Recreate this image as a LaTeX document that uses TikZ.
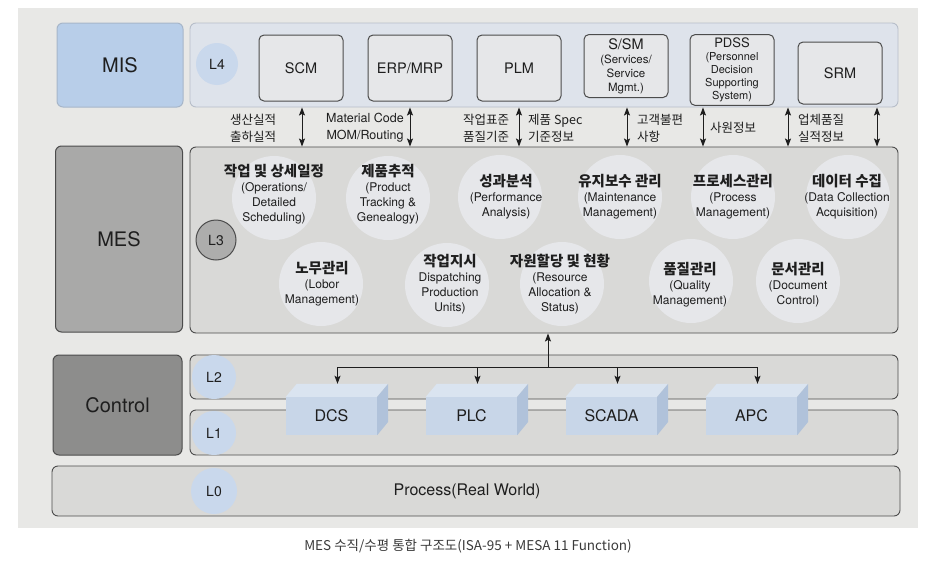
\documentclass[tikz,border=0pt]{standalone}
\usepackage{fontspec}
\setmainfont{TeX Gyre Heros}
\newfontfamily\kr{Noto Sans CJK KR}
\usepackage{tikz}
\usetikzlibrary{positioning,shapes,arrows.meta}

\definecolor{photo}{HTML}{E8E8E6}
\definecolor{misblue}{HTML}{B8CEE9}
\definecolor{rowblue}{HTML}{DEE3EB}
\definecolor{rowblueedge}{HTML}{B7BEC9}
\definecolor{mesgray}{HTML}{A9A9A8}
\definecolor{ctrlgray}{HTML}{8D8D8C}
\definecolor{rowgray}{HTML}{D9D9D7}
\definecolor{boxgray}{HTML}{E6E7E9}
\definecolor{fncircle}{HTML}{E6E7EA}
\definecolor{lvblue}{HTML}{C9D8EC}
\definecolor{lvgray}{HTML}{ADADAC}
\definecolor{edge}{HTML}{4C4C4C}
\definecolor{ink}{HTML}{1E1E1E}
\definecolor{capgray}{HTML}{3A3A3A}
\definecolor{cubefront}{HTML}{C8D6E8}
\definecolor{cubetop}{HTML}{DAE4F0}
\definecolor{cubeside}{HTML}{B0C2DA}

\newcommand{\fnhead}[1]{{\kr\bfseries\fontsize{14.5}{15}\selectfont #1}}
\newcommand{\subline}[1]{{\fontsize{11.5}{13}\selectfont #1}}
\newcommand{\pdssline}[1]{{\fontsize{11}{12.5}\selectfont #1}}

\begin{document}
\begin{tikzpicture}[x=1pt, y=-1pt, >={Stealth[length=8pt, width=6pt, inset=1.5pt]},
    layer/.style={draw=edge, line width=1pt, rounded corners=6pt, text=ink, font=\fontsize{20}{24}\selectfont},
    row/.style={draw=edge, line width=0.9pt, rounded corners=6pt, fill=rowgray},
    level/.style={circle, minimum size=42pt, inner sep=0pt, fill=lvblue, text=ink, font=\fontsize{14}{16}\selectfont},
    sysbox/.style={draw=edge, line width=1pt, rounded corners=5pt, fill=boxgray, minimum width=84pt, minimum height=66pt, align=center, text=ink, font=\fontsize{14.5}{16}\selectfont},
    fnbg/.style={circle, fill=fncircle, minimum size=84pt, inner sep=0pt},
    fntext/.style={align=center, text=ink, font=\fontsize{12}{15}\selectfont},
    lbl/.style={align=center, text=ink, inner sep=0pt, font=\kr\fontsize{12.5}{17}\selectfont},
    cube/.style={fill=cubefront, minimum width=91pt, minimum height=38pt, inner sep=0pt, text=ink, font=\fontsize{16}{18}\selectfont},
    link/.style={line width=1pt, draw=ink}]

\useasboundingbox (0,0) rectangle (926,562);
\fill[photo] (18,8) rectangle (918,528);

\node[layer, draw=misblue!70!gray, fill=misblue, minimum width=126pt, minimum height=84pt] (mis) at (120,65) {MIS};
\node[layer, fill=mesgray, minimum width=127pt, minimum height=186pt] (mes) at (119,239) {MES};
\node[layer, fill=ctrlgray, minimum width=129pt, minimum height=100pt] (control) at (117.5,405) {Control};

\node[row, draw=rowblueedge, fill=rowblue, minimum width=708pt, minimum height=84pt] (l4row) at (544,65) {};
\node[row, minimum width=708pt, minimum height=186pt] (l3row) at (544,240) {};
\node[row, minimum width=708pt, minimum height=44pt] (l2row) at (544,377) {};
\node[row, minimum width=708pt, minimum height=45pt] (l1row) at (544,432.5) {};
\node[row, minimum width=848pt, minimum height=50pt] (l0row) at (476,491) {};

\node[level] (l4) at (217,64) {L4};
\node[level, fill=lvgray, draw=edge, line width=1pt, minimum size=40pt] (l3) at (216,240) {L3};
\node[level, minimum size=44pt] (l2) at (214,377) {L2};
\node[level, minimum size=44pt] (l1) at (214,433) {L1};
\node[level, minimum size=46pt] (l0) at (214,491) {L0};

\node[sysbox] (scm) at (301,68) {SCM};
\node[sysbox] (erp) at (410,68) {ERP/MRP};
\node[sysbox] (plm) at (519,68) {PLM};
\node[sysbox, minimum height=63pt] (ssm) at (626,66) {S/SM\\[-2pt]\subline{(Services/}\\[-2pt]\subline{Service}\\[-2pt]\subline{Mgmt.)}};
\node[sysbox, minimum height=64pt] (pdss) at (732,70) {{\fontsize{13}{13}\selectfont PDSS}\\[-3pt]\pdssline{(Personnel}\\[-3pt]\pdssline{Decision}\\[-3pt]\pdssline{Supporting}\\[-3pt]\pdssline{System)}};
\node[sysbox, minimum height=62pt] (srm) at (840,73) {SRM};

\foreach \x in {302,410,519,627,703,788,877}
    \draw[link, <->] (\x,0 |- l4row.south) -- (\x,0 |- l3row.north);

\node[lbl] (lblscm) at (253,128) {생산실적\\출하실적};
\node[lbl, font=\fontsize{12.5}{17}\selectfont] (lblerp) at (365,128) {Material Code\\MOM/Routing};
\node[lbl] (lblplma) at (486,128) {작업표준\\품질기준};
\node[lbl, align=left, anchor=west] (lblplmb) at (528,128) {제품 Spec\\기준정보};
\node[lbl, align=left, anchor=west] (lblssm) at (637,128) {고객불편\\사항};
\node[lbl, align=left, anchor=west] (lblpdss) at (710,128) {사원정보};
\node[lbl, align=left, anchor=west] (lblsrm) at (798,128) {업체품질\\실적정보};

\node[fnbg] (opsbg) at (274,198) {};
\node[fnbg] (trackbg) at (388,198) {};
\node[fnbg] (perfbg) at (500,197) {};
\node[fnbg] (maintbg) at (620,197) {};
\node[fnbg] (procbg) at (733,197) {};
\node[fnbg] (databg) at (848,197) {};
\node[fnbg] (laborbg) at (321,284) {};
\node[fnbg] (dispbg) at (447,285) {};
\node[fnbg] (resbg) at (562,284) {};
\node[fnbg] (qualbg) at (691,281) {};
\node[fnbg] (docbg) at (798,281) {};

\node[fntext] (ops) at (274,194.5) {\fnhead{작업 및 상세일정}\\(Operations/\\Detailed\\Scheduling)};
\node[fntext] (track) at (388,194.5) {\fnhead{제품추적}\\(Product\\Tracking \&\\Genealogy)};
\node[fntext] (perf) at (506,197) {\fnhead{성과분석}\\(Performance\\Analysis)};
\node[fntext] (maint) at (620,197) {\fnhead{유지보수 관리}\\(Maintenance\\Management)};
\node[fntext] (proc) at (733,197) {\fnhead{프로세스관리}\\(Process\\Management)};
\node[fntext] (data) at (847,197) {\fnhead{데이터 수집}\\(Data Collection\\Acquisition)};
\node[fntext] (labor) at (322,284) {\fnhead{노무관리}\\(Lobor\\Management)};
\node[fntext] (disp) at (450,284.5) {\fnhead{작업지시}\\Dispatching\\Production\\Units)};
\node[fntext] (res) at (560,284.5) {\fnhead{자원할당 및 현황}\\(Resource\\Allocation \&\\Status)};
\node[fntext] (qual) at (690,284.5) {\fnhead{품질관리}\\(Quality\\Management)};
\node[fntext] (doc) at (798,284.5) {\fnhead{문서관리}\\(Document\\Control)};

\coordinate (bus) at (548,367);
\draw[link, ->] (bus) -- (bus |- l3row.south);
\foreach \nm/\txt/\x in {dcs/DCS/331.5, plc/PLC/471.5, scada/SCADA/611.5, apc/APC/751.5} {
    \node[cube] (\nm) at (\x,416) {\txt};
    \fill[cubetop] (\nm.north west) -- ++(11,-13) -- ++(91,0) -- (\nm.north east) -- cycle;
    \fill[cubeside] (\nm.north east) -- ++(11,-13) -- ++(0,38) -- (\nm.south east) -- cycle;
    \coordinate (\nm top) at ([xshift=6pt,yshift=13pt]\nm.north);
    \draw[link, ->] (bus) -| (\nm top);
}

\node[text=ink, font=\fontsize{16}{18}\selectfont] (process) at (467,491) {Process(Real World)};

\node[text=capgray, font=\kr\fontsize{13.5}{15}\selectfont] (caption) at (468,546) {MES 수직/수평 통합 구조도(ISA-95 + MESA 11 Function)};
\end{tikzpicture}
\end{document}
